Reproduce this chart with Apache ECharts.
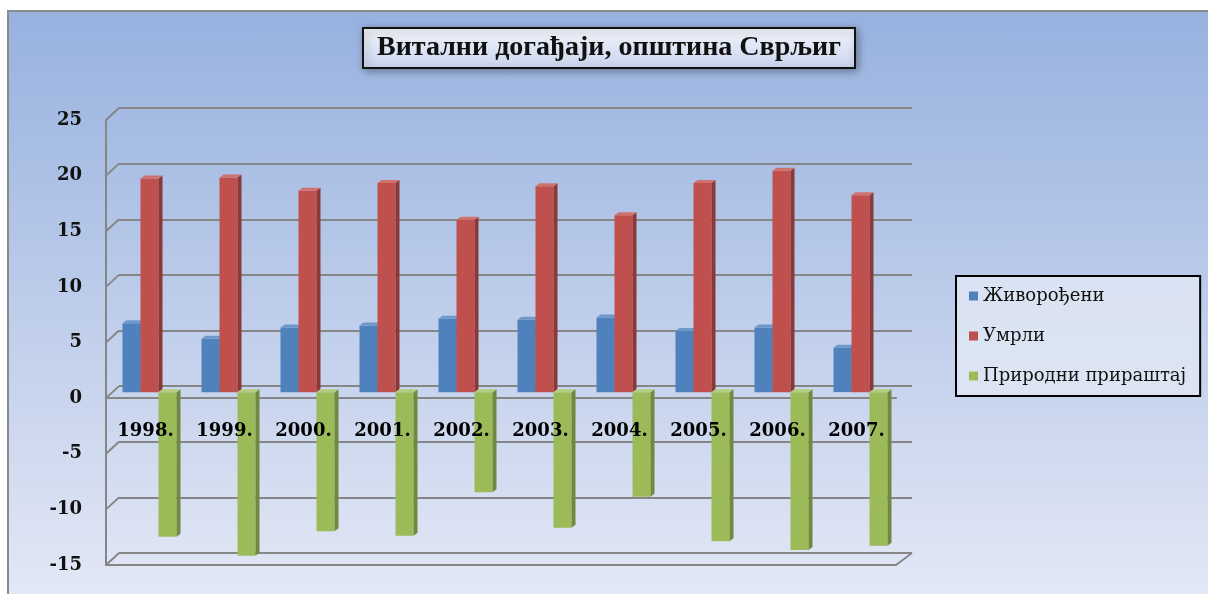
<!DOCTYPE html>
<html>
<head>
<meta charset="utf-8">
<title>Витални догађаји</title>
<script src="https://cdn.jsdelivr.net/npm/echarts@6/dist/echarts.min.js"></script>
<style>
    html, body { margin: 0; padding: 0; background: #fff; }
    #bg {
        position: absolute; left: 7px; top: 10px; width: 1201px; height: 584px;
        border-top: 2px solid #8a8a8a; border-left: 2px solid #8a8a8a;
        background: linear-gradient(#97b1df, #e3e8f5);
    }
    #main { position: absolute; left: 0; top: 0; width: 1208px; height: 594px; }
</style>
</head>
<body>
<div id="bg"></div>
<div id="main"></div>
<script>
// podaci sa grafika
const years = ['1998.', '1999.', '2000.', '2001.', '2002.', '2003.', '2004.', '2005.', '2006.', '2007.'];
const zivorodjeni = [6.2, 4.8, 5.8, 6.0, 6.6, 6.5, 6.7, 5.5, 5.8, 4.0];
const umrli = [19.2, 19.3, 18.1, 18.8, 15.5, 18.5, 15.9, 18.8, 19.9, 17.7];
const prirastaj = [-13.0, -14.7, -12.5, -12.9, -9.0, -12.2, -9.4, -13.4, -14.2, -13.8];
const yTicks = [-15, -10, -5, 0, 5, 10, 15, 20, 25];
const names = ['Живорођени', 'Умрли', 'Природни прираштај'];

const gridColor = '#868686';
const faces = ['#4f81bd', '#c0504d', '#9bbb59'];
const sides = ['#385d8a', '#8c3836', '#71893f'];
const tops = ['#6f97c9', '#d0716e', '#b3cc7e'];

let chart = echarts.init(document.getElementById('main'));

// 3D stubic: prednja strana, bok i vrh
function bar3d(k) {
    return function (params, api) {
        const i = api.value(0);
        const p = api.coord([i, api.value(1)]);
        const z = api.coord([i, 0]);
        const w = 18, d = 4, h = 3;
        const x = p[0] + (k - 1) * w - w / 2;
        const y1 = Math.min(p[1], z[1]);
        const y2 = Math.max(p[1], z[1]);
        return {
            type: 'group',
            children: [
                {type: 'rect', shape: {x: x, y: y1, width: w, height: y2 - y1}, style: {fill: faces[k]}},
                {type: 'polygon', shape: {points: [[x + w, y1], [x + w + d, y1 - h], [x + w + d, y2 - h], [x + w, y2]]}, style: {fill: sides[k]}},
                {type: 'polygon', shape: {points: [[x, y1], [x + d, y1 - h], [x + w + d, y1 - h], [x + w, y1]]}, style: {fill: tops[k]}}
            ]
        };
    };
}

function barSeries(k, values) {
    return {
        name: names[k],
        type: 'custom',
        xAxisIndex: 2,
        yAxisIndex: 2,
        itemStyle: {color: faces[k]},
        renderItem: bar3d(k),
        encode: {x: 0, y: 1},
        data: values.map((v, i) => [i, v])
    };
}

const valueAxis = {type: 'value', min: -15, max: 25, interval: 5};

chart.setOption({
    animation: false,
    color: faces,
    title: {
        text: 'Витални догађаји, општина Сврљиг',
        left: 363,
        top: 28,
        padding: [6, 14],
        borderColor: '#111',
        borderWidth: 2,
        backgroundColor: new echarts.graphic.LinearGradient(0, 0, 0, 1, [
            {offset: 0, color: '#f2f5fb'},
            {offset: 1, color: '#c9d5ee'}
        ]),
        shadowBlur: 8,
        shadowColor: 'rgba(0, 0, 0, 0.35)',
        shadowOffsetX: 2,
        shadowOffsetY: 2,
        textStyle: {
            fontFamily: 'Liberation Serif',
            fontWeight: 'bold',
            fontSize: 28,
            color: '#111'
        }
    },
    legend: {
        data: names,
        orient: 'vertical',
        left: 956,
        top: 276,
        padding: [11, 14, 11, 13],
        itemGap: 22,
        itemWidth: 9,
        itemHeight: 9,
        icon: 'rect',
        borderColor: '#000',
        borderWidth: 2,
        backgroundColor: 'rgba(222, 229, 244, 0.9)',
        textStyle: {fontFamily: 'DejaVu Serif', fontSize: 18, color: '#111'}
    },
    grid: [
        // prednja ravan
        {left: 106, top: 120, width: 790, height: 445, outerBoundsMode: 'none'},
        // zadnji zid
        {left: 119, top: 108, width: 793, height: 445, outerBoundsMode: 'none'},
        // ravan stubova
        {left: 110, top: 114, width: 790, height: 445, outerBoundsMode: 'none'},
        // prednja ivica poda
        {left: 106, top: 120, width: 790, height: 445, outerBoundsMode: 'none'},
        // natpisi godina ispod nulte linije
        {left: 106, top: 120, width: 790, height: 278, outerBoundsMode: 'none'}
    ],
    xAxis: [
        {
            gridIndex: 0, type: 'category', data: years,
            axisLine: {onZero: true, lineStyle: {color: gridColor, width: 2}},
            axisTick: {show: false},
            axisLabel: {show: false}
        },
        {gridIndex: 1, type: 'category', data: years, show: false},
        {gridIndex: 2, type: 'category', data: years, show: false},
        {
            gridIndex: 3, type: 'category', data: years, position: 'bottom',
            axisLine: {onZero: false, lineStyle: {color: gridColor, width: 2}},
            axisTick: {show: false},
            axisLabel: {show: false}
        },
        {
            gridIndex: 4, type: 'category', data: years, position: 'bottom', z: 10,
            axisLine: {show: false},
            axisTick: {show: false},
            axisLabel: {margin: 24, fontFamily: 'DejaVu Serif', fontWeight: 'bold', fontSize: 18, color: '#000'}
        }
    ],
    yAxis: [
        Object.assign({}, valueAxis, {
            gridIndex: 0,
            axisLine: {show: true, lineStyle: {color: gridColor, width: 2}},
            axisTick: {show: false},
            splitLine: {show: false},
            axisLabel: {margin: 24, fontFamily: 'DejaVu Serif', fontWeight: 'bold', fontSize: 18, color: '#111'}
        }),
        Object.assign({}, valueAxis, {
            gridIndex: 1,
            axisLine: {show: false},
            axisTick: {show: false},
            axisLabel: {show: false},
            splitLine: {show: true, lineStyle: {color: gridColor, width: 2}}
        }),
        Object.assign({}, valueAxis, {gridIndex: 2, show: false}),
        Object.assign({}, valueAxis, {gridIndex: 3, show: false}),
        {type: 'value', gridIndex: 4, show: false, min: 0, max: 25}
    ],
    series: [
        // kose linije koje spajaju prednju ivicu i zadnji zid
        {
            type: 'custom',
            xAxisIndex: 0,
            yAxisIndex: 0,
            silent: true,
            z: 1,
            data: yTicks.map(v => [0, v]),
            renderItem: function (params, api) {
                const v = api.value(1);
                const y = api.coord([0, v])[1];
                const cs = params.coordSys;
                const style = {stroke: gridColor, lineWidth: 2};
                const lines = [{type: 'line', shape: {x1: cs.x, y1: y, x2: cs.x + 13, y2: y - 12}, style: style}];
                if (v === yTicks[0]) {
                    lines.push({type: 'line', shape: {x1: cs.x + cs.width, y1: y, x2: cs.x + cs.width + 16, y2: y - 12}, style: style});
                }
                return {type: 'group', children: lines};
            }
        },
        barSeries(0, zivorodjeni),
        barSeries(1, umrli),
        barSeries(2, prirastaj)
    ]
});
</script>
</body>
</html>
